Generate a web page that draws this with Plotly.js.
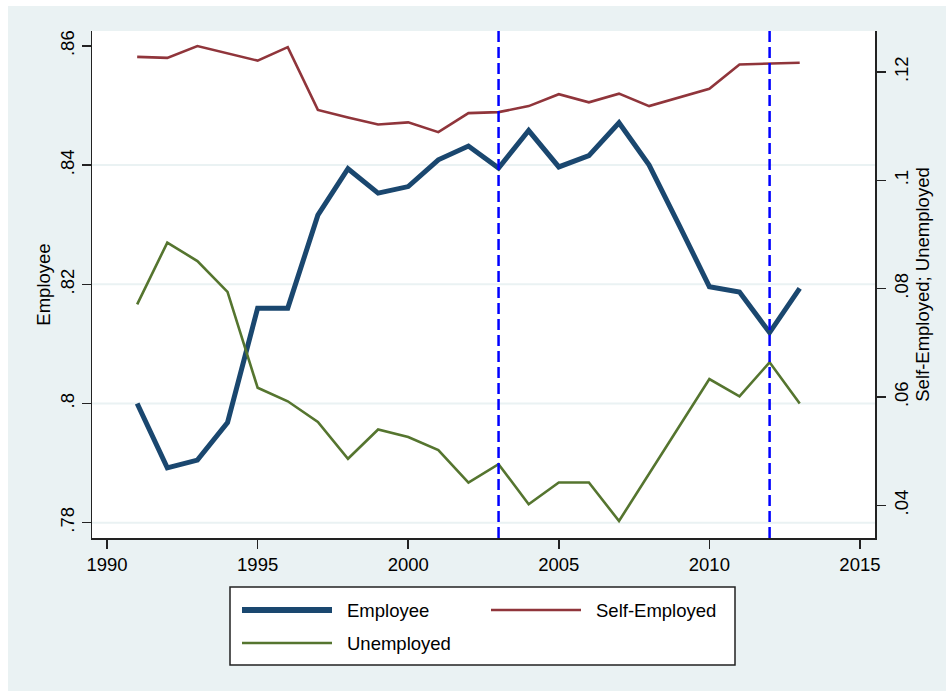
<!DOCTYPE html>
<html>
<head>
<meta charset="utf-8">
<script src="https://cdn.plot.ly/plotly-3.0.1.min.js"></script>
<style>html,body{margin:0;padding:0;background:#fff;}#chart{width:948px;height:691px;}</style>
</head>
<body>
<div id="chart"></div>
<script>
// ---- data ----
const years = [1991,1992,1993,1994,1995,1996,1997,1998,1999,2000,2001,2002,2003,2004,2005,2006,2007,2008,2009,2010,2011,2012,2013];
const employee = [0.8000,0.7892,0.7905,0.7968,0.8160,0.8160,0.8316,0.8394,0.8353,0.8364,0.8409,0.8432,0.8395,0.8458,0.8397,0.8416,0.8471,0.8400,0.8299,0.8196,0.8187,0.8119,0.8193];
const selfEmployed = [0.1228,0.1226,0.1248,0.1235,0.1221,0.1246,0.1130,0.1116,0.1103,0.1107,0.1089,0.1124,0.1126,0.1137,0.1159,0.1144,0.1160,0.1137,0.1153,0.1169,0.1214,0.1216,0.1217];
const unemployed = [0.0771,0.0885,0.0851,0.0794,0.0617,0.0592,0.0554,0.0486,0.0540,0.0526,0.0502,0.0442,0.0476,0.0402,0.0442,0.0442,0.0371,0.0459,0.0546,0.0633,0.0601,0.0664,0.0588];
const seriesNames = ['Employee','Self-Employed','Unemployed'];
const leftTicks = [0.78,0.80,0.82,0.84,0.86];
const leftTickText = ['.78','.8','.82','.84','.86'];
const rightTicks = [0.04,0.06,0.08,0.10,0.12];
const rightTickText = ['.04','.06','.08','.1','.12'];
const xTicks = [1990,1995,2000,2005,2010,2015];
const gridVals = [0.78,0.80,0.82,0.84];
const refYears = [2003,2012];

// ---- style ----
const cEmp = '#1A476F', cSelf = '#90353B', cUn = '#55752F';
const bg = '#EAF2F3';
const font = {family:'"Liberation Sans", Arial, sans-serif', size:18.5, color:'#000'};

const traces = [
  {x:years, y:employee, name:seriesNames[0], type:'scatter', mode:'lines', yaxis:'y', line:{color:cEmp, width:5}},
  {x:years, y:selfEmployed, name:seriesNames[1], type:'scatter', mode:'lines', yaxis:'y2', line:{color:cSelf, width:2.6}},
  {x:years, y:unemployed, name:seriesNames[2], type:'scatter', mode:'lines', yaxis:'y2', line:{color:cUn, width:2.6}}
];

const shapes = [];
// outer white strips (top/left/right)
shapes.push({type:'rect', xref:'paper', yref:'paper', x0:-92/783, x1:-84/783, y0:-153/507, y1:538/507, fillcolor:'#fff', line:{width:0}, layer:'below'});
shapes.push({type:'rect', xref:'paper', yref:'paper', x0:-92/783, x1:856/783, y0:(538-6)/507, y1:538/507, fillcolor:'#fff', line:{width:0}, layer:'below'});
shapes.push({type:'rect', xref:'paper', yref:'paper', x0:(946-92)/783, x1:856/783, y0:-153/507, y1:538/507, fillcolor:'#fff', line:{width:0}, layer:'below'});
gridVals.forEach(v => shapes.push({type:'line', xref:'paper', yref:'y', x0:0, x1:1, y0:v, y1:v, line:{color:bg, width:2}, layer:'below'}));
refYears.forEach(v => shapes.push({type:'line', xref:'x', yref:'paper', x0:v, x1:v, y0:0, y1:1, line:{color:'#0000FF', width:2.5, dash:'11px,5px'}, layer:'above'}));

// manual legend (pixel -> paper)
const px = p => (p-92)/783, py = p => (538-p)/507;
shapes.push({type:'rect', xref:'paper', yref:'paper', x0:px(230), x1:px(735), y0:py(665), y1:py(587), fillcolor:'#fff', line:{color:'#222', width:1.5}});
const legendItems = [
  {name:seriesNames[0], color:cEmp, w:6, x:242, y:610},
  {name:seriesNames[1], color:cSelf, w:2.6, x:491, y:610},
  {name:seriesNames[2], color:cUn, w:2.6, x:242, y:643}
];
const annotations = [];
legendItems.forEach(it => {
  shapes.push({type:'line', xref:'paper', yref:'paper', x0:px(it.x), x1:px(it.x+90), y0:py(it.y), y1:py(it.y), line:{color:it.color, width:it.w}});
  annotations.push({xref:'paper', yref:'paper', x:px(it.x+103), y:py(it.y), xanchor:'left', yanchor:'middle', text:it.name, showarrow:false, font:font});
});

const axisCommon = {showline:true, linecolor:'#222', linewidth:1.5, ticks:'outside', ticklen:9, tickwidth:1.5, tickcolor:'#222', showgrid:false, zeroline:false, tickfont:font};

const layout = {
  width:948, height:691,
  margin:{l:92, r:73, t:31, b:153, pad:0},
  paper_bgcolor:bg, plot_bgcolor:'#fff',
  showlegend:false,
  font:font,
  xaxis:Object.assign({}, axisCommon, {range:[1989.5,2015.5], tickvals:xTicks, ticktext:xTicks.map(String)}),
  yaxis:Object.assign({}, axisCommon, {range:[0.77742,0.86251], tickvals:leftTicks, ticktext:leftTickText, tickangle:-90, title:{text:'Employee', font:font, standoff:1}}),
  yaxis2:Object.assign({}, axisCommon, {overlaying:'y', side:'right', range:[0.03396,0.12757], tickvals:rightTicks, ticktext:rightTickText, tickangle:-90, title:{text:'Self-Employed; Unemployed', font:font, standoff:3}}),
  shapes:shapes,
  annotations:annotations
};

Plotly.newPlot('chart', traces, layout, {staticPlot:true, displayModeBar:false});
</script>
</body>
</html>
